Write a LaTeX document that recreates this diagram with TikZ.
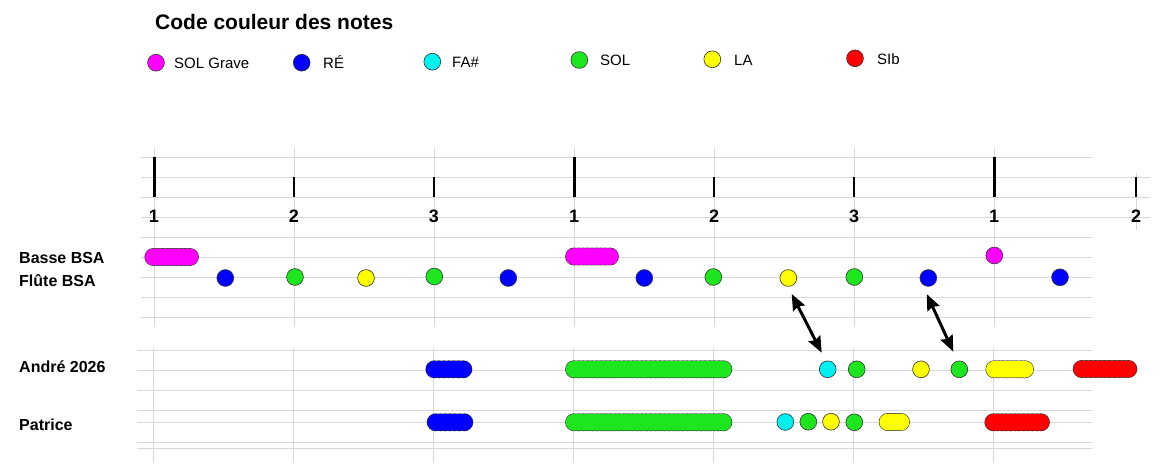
\documentclass[tikz,border=0pt]{standalone}
\usepackage{fontspec}
\setmainfont{Liberation Sans}
\usetikzlibrary{arrows.meta}
\definecolor{cSolG}{RGB}{255,0,255}
\definecolor{cRe}{RGB}{0,0,255}
\definecolor{cFa}{RGB}{0,240,240}
\definecolor{cSol}{RGB}{30,230,30}
\definecolor{cLa}{RGB}{255,255,0}
\definecolor{cSib}{RGB}{255,0,0}
\definecolor{gridc}{RGB}{215,215,215}
% pill of overlapping circles: colour, left edge, right edge, y
\newcommand\notepill[4]{%
  \pgfmathsetmacro\npA{#2+8.4}%
  \pgfmathsetmacro\npB{#3-8.4}%
  \pgfmathsetmacro\npN{int(max(1,round((\npB-\npA)/4.5)))}%
  \foreach \npI in {0,...,\npN}{%
    \pgfmathsetmacro\npX{\npA+(\npB-\npA)*\npI/\npN}%
    \draw[draw=black!80,line width=1.1pt] (\npX,#4) circle (8.4pt);
  }%
  \foreach \npI in {0,...,\npN}{%
    \pgfmathsetmacro\npX{\npA+(\npB-\npA)*\npI/\npN}%
    \fill[#1] (\npX,#4) circle (8.4pt);
  }%
}
\begin{document}
\begin{tikzpicture}[x=1pt,y=-1pt,
  dot/.style={circle,draw=black!80,line width=0.6pt,minimum size=16.8pt,inner sep=0pt},
  gridline/.style={draw=gridc,line width=0.8pt},
  bartick/.style={line width=3pt},
  beattick/.style={line width=1.2pt},
  beatnum/.style={font=\bfseries\fontsize{18}{21}\selectfont,anchor=base,inner sep=0pt},
  rowlabel/.style={font=\bfseries\fontsize{16}{19}\selectfont,anchor=base west,inner sep=0pt},
  legtext/.style={font=\fontsize{15}{18}\selectfont,anchor=base west,inner sep=0pt},
  link/.style={line width=3pt,{Stealth[length=16pt,width=13pt,inset=2pt]}-{Stealth[length=16pt,width=13pt,inset=2pt]}}
]
\useasboundingbox[fill=white] (0,0) rectangle (1175,468);

% ---------- legend ----------
\node[anchor=base west,inner sep=0pt,font=\bfseries\fontsize{21}{25}\selectfont] (title) at (155,30) {Code couleur des notes};
\node[dot,fill=cSolG] (lg1) at (156,62.7) {};
\node[legtext] (lt1) at (174,68.5) {SOL Grave};
\node[dot,fill=cRe] (lg2) at (301.7,62.7) {};
\node[legtext] (lt2) at (323,68.5) {RÉ};
\node[dot,fill=cFa] (lg3) at (432.3,61.7) {};
\node[legtext] (lt3) at (452,67.5) {FA\#};
\node[dot,fill=cSol] (lg4) at (579.3,60) {};
\node[legtext] (lt4) at (600,65.8) {SOL};
\node[dot,fill=cLa] (lg5) at (712.3,59.3) {};
\node[legtext] (lt5) at (734,65.1) {LA};
\node[dot,fill=cSib] (lg6) at (855,58.3) {};
\node[legtext] (lt6) at (877,64.1) {SIb};

% ---------- upper grid ----------
\foreach \yy in {157,237,257,277,297,317} \draw[gridline] (141,\yy) -- (1092,\yy);
\foreach \yy in {177,197,217} \draw[gridline] (141,\yy) -- (1150,\yy);
\foreach \xx in {154,294,434,574,714,854,994} \draw[gridline] (\xx,148) -- (\xx,327);
\draw[gridline] (1136,173) -- (1136,230);

% ---------- lower grid ----------
\foreach \yy in {350,370,390,410,422,442,448} \draw[gridline] (137,\yy) -- (1092,\yy);
\foreach \xx in {153.5,293.5,433.5,573.5,713.5,853.5,993.5} \draw[gridline] (\xx,348) -- (\xx,463);

% ---------- beat ticks and numbers ----------
\foreach \xx in {154,574,994} \draw[bartick] (\xx,157) -- (\xx,197);
\foreach \xx in {294,434,714,854,1136} \draw[beattick] (\xx,177) -- (\xx,197);
\foreach \xx/\nn in {154/1,294/2,434/3,574/1,714/2,854/3,994/1,1136/2}
  \node[beatnum] at (\xx,222.7) {\nn};

% ---------- row labels ----------
\node[rowlabel] (rBasse) at (19,263.3) {Basse BSA};
\node[rowlabel] (rFlute) at (19,286.7) {Flûte BSA};
\node[rowlabel] (rAndre) at (19,372.7) {André 2026};
\node[rowlabel] (rPatrice) at (19,430) {Patrice};

% ---------- Basse BSA ----------
\notepill{cSolG}{145}{198.3}{257}
\notepill{cSolG}{565.7}{618.3}{256.5}
\node[dot,fill=cSolG] (b3) at (994.3,255.5) {};

% ---------- Flute BSA ----------
\node[dot,fill=cRe]  (f1) at (225.3,278) {};
\node[dot,fill=cSol] (f2) at (295,277) {};
\node[dot,fill=cLa]  (f3) at (366,278) {};
\node[dot,fill=cSol] (f4) at (434.3,276.5) {};
\node[dot,fill=cRe]  (f5) at (508.3,278) {};
\node[dot,fill=cRe]  (f6) at (644.3,278) {};
\node[dot,fill=cSol] (f7) at (713.3,277) {};
\node[dot,fill=cLa]  (f8) at (788.3,278) {};
\node[dot,fill=cSol] (f9) at (854.3,277) {};
\node[dot,fill=cRe]  (f10) at (928.3,278) {};
\node[dot,fill=cRe]  (f11) at (1060,277.3) {};

% ---------- André 2026 ----------
\notepill{cRe}{426}{471.7}{369.3}
\notepill{cSol}{565.7}{731.7}{369.3}
\node[dot,fill=cFa]  (a1) at (827.7,369.3) {};
\node[dot,fill=cSol] (a2) at (856.7,369.3) {};
\node[dot,fill=cLa]  (a3) at (921,369.3) {};
\node[dot,fill=cSol] (a4) at (959.3,369.3) {};
\notepill{cLa}{986}{1033.3}{369.3}
\notepill{cSib}{1073.3}{1136.7}{369}

% ---------- Patrice ----------
\notepill{cRe}{427.3}{472.7}{422.3}
\notepill{cSol}{565.7}{731.7}{422.3}
\node[dot,fill=cFa]  (p1) at (785.3,422) {};
\node[dot,fill=cSol] (p2) at (808.3,421.7) {};
\node[dot,fill=cLa]  (p3) at (831,421.7) {};
\node[dot,fill=cSol] (p4) at (854.3,422.3) {};
\notepill{cLa}{879.3}{909.3}{422}
\notepill{cSib}{985}{1049.3}{422.3}

% ---------- arrows ----------
\coordinate (k1a) at (791.7,294);
\coordinate (k1b) at (821.7,352.7);
\coordinate (k2a) at (926.7,294);
\coordinate (k2b) at (953.3,351.7);
\draw[link] (k1a) -- (k1b);
\draw[link] (k2a) -- (k2b);
\end{tikzpicture}
\end{document}
